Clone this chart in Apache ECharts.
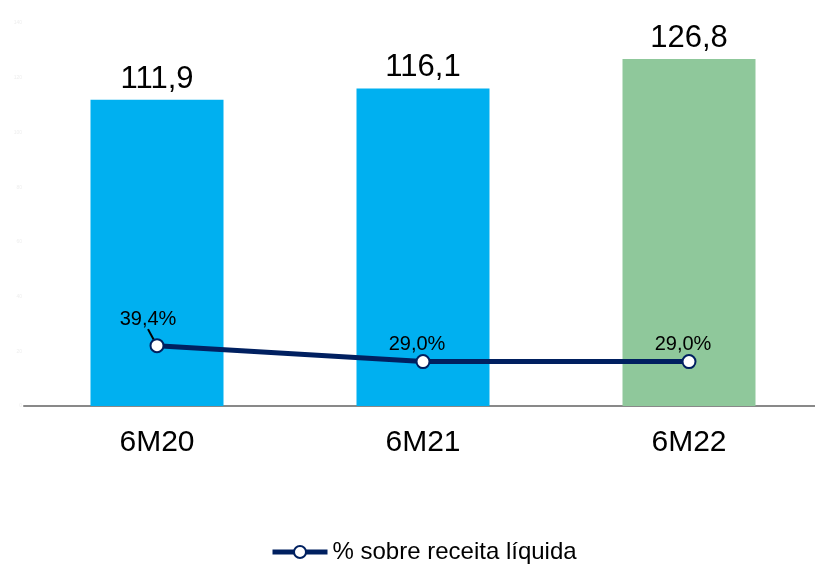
<!DOCTYPE html>
<html>
<head>
<meta charset="utf-8">
<script src="https://cdn.jsdelivr.net/npm/echarts@6/dist/echarts.min.js"></script>
<style>html,body{margin:0;padding:0;background:#fff}#c{width:815px;height:569px}</style>
</head>
<body>
<div id="c"></div>
<script>
var categories = ['6M20', '6M21', '6M22'];
var barValues = [111.9, 116.1, 126.8];
var barColors = ['#00B0F0', '#00B0F0', '#8FC89B'];
var pctValues = [39.4, 29.0, 29.0];
var yTicks = [0, 20, 40, 60, 80, 100, 120, 140];
var lineName = '% sobre receita líquida';

function fmt(v, d) { return v.toFixed(d).replace('.', ','); }

var chart = echarts.init(document.getElementById('c'));
chart.setOption({
  animation: false,
  textStyle: { fontFamily: 'Liberation Sans, Arial, sans-serif' },
  grid: { left: 24, width: 798, top: 23, bottom: 163, outerBoundsMode: 'none', containLabel: false },
  legend: {
    data: [lineName],
    left: 270, top: 540, padding: 0,
    itemWidth: 55, itemHeight: 15, itemGap: 4,
    lineStyle: { width: 5 },
    textStyle: { fontSize: 24, color: '#000', fontFamily: 'Liberation Sans, Arial, sans-serif' }
  },
  xAxis: {
    type: 'category', data: categories,
    axisLine: { lineStyle: { color: '#898989', width: 2 } },
    axisTick: { show: false },
    axisLabel: { fontSize: 30, color: '#000', margin: 22 }
  },
  yAxis: [{
    type: 'value', min: yTicks[0], max: yTicks[yTicks.length - 1], interval: 20,
    splitLine: { show: false }, axisLine: { show: false }, axisTick: { show: false },
    axisLabel: { fontSize: 5, color: '#eeeeee', margin: 2 }
  }, {
    type: 'value', min: 0, max: 250, show: false, splitLine: { show: false }
  }],
  series: [{
    type: 'bar', data: barValues.map(function (v, i) { return { value: v, itemStyle: { color: barColors[i] } }; }),
    barWidth: '50%',
    label: { show: true, position: 'top', distance: 5, fontSize: 31, color: '#000',
      formatter: function (p) { return fmt(p.value, 1); } }
  }, {
    type: 'line', name: lineName, yAxisIndex: 1,
    data: pctValues.map(function (v, i) {
      return i === 0 ? { value: v } : { value: v, labelLine: { show: false } };
    }),
    symbol: 'circle', symbolSize: 13,
    lineStyle: { color: '#002060', width: 5 },
    itemStyle: { color: '#fff', borderColor: '#002060', borderWidth: 2 },
    label: { show: true, position: 'top', distance: 1, fontSize: 20, color: '#000',
      formatter: function (p) { return fmt(p.value, 1) + '%'; } },
    labelLayout: function (p) {
      if (p.dataIndex === 0) return { dx: -9, dy: -8 };
      return { dx: -6, dy: 1 };
    },
    labelLine: { show: true, lineStyle: { color: '#000', width: 2 }, length2: 0 },
    z: 5
  }]
});
</script>
</body>
</html>
